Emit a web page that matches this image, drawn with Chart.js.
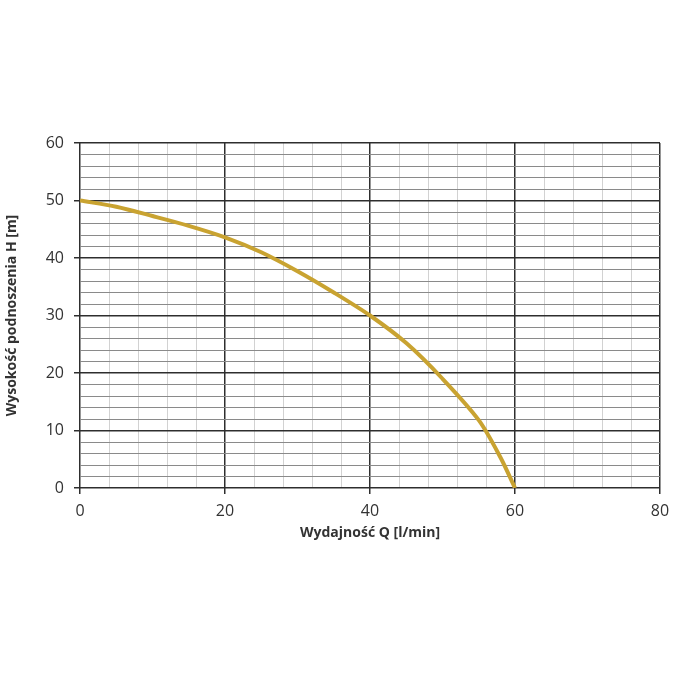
<!DOCTYPE html>
<html>
<head>
<meta charset="utf-8">
<script src="https://cdn.jsdelivr.net/npm/chart.js@4/dist/chart.umd.min.js"></script>
<style>
  html, body { margin: 0; padding: 0; background: #fff; }
  #wrap { width: 680px; height: 680px; }
</style>
</head>
<body>
<div id="wrap"><canvas id="chart" width="680" height="680"></canvas></div>
<script>
// krzywa pompy
const flowQ = [0, 5, 10, 15, 20, 25, 30, 35, 40, 45, 50, 55, 58, 60];
const headH = [50, 48.9, 47.3, 45.6, 43.6, 41.0, 37.7, 34.0, 30.0, 25.2, 19.0, 11.8, 5.3, 0];

const xTitle = 'Wydajność Q [l/min]';
const yTitle = 'Wysokość podnoszenia H [m]';

const MAJOR = '#2e2e2e';
const LINE = '#c9a331';

const points = flowQ.map((q, i) => ({ x: q, y: headH[i] }));

new Chart(document.getElementById('chart'), {
  type: 'line',
  data: {
    datasets: [{
      data: points,
      borderColor: LINE,
      borderWidth: 4,
      pointRadius: 0,
      tension: 0.3,
      fill: false
    }]
  },
  options: {
    responsive: false,
    animation: false,
    layout: { padding: { top: 143, right: 20, bottom: 135, left: 0 } },
    plugins: { legend: { display: false }, tooltip: { enabled: false } },
    scales: {
      x: {
        type: 'linear',
        min: 0, max: 80,
        border: { display: false },
        grid: {
          color: c => c.tick.value % 20 === 0 ? MAJOR : '#d2d2d2',
          lineWidth: c => c.tick.value % 20 === 0 ? 1.5 : 1,
          tickColor: c => c.tick.value % 20 === 0 ? MAJOR : 'rgba(0,0,0,0)',
          tickLength: 6
        },
        ticks: {
          stepSize: 4,
          autoSkip: false,
          maxRotation: 0,
          padding: 8,
          color: '#333',
          font: { family: 'Open Sans', size: 16 },
          callback: v => v % 20 === 0 ? v : ''
        },
        title: {
          display: true,
          text: xTitle,
          color: '#333',
          font: { family: 'Open Sans', size: 14, weight: '700' }
        },
        afterFit: s => { s.height = 57; }
      },
      y: {
        min: 0, max: 60,
        border: { display: false },
        grid: {
          color: c => c.tick.value % 10 === 0 ? MAJOR : '#8a8a8a',
          lineWidth: c => c.tick.value % 10 === 0 ? 1.5 : 1,
          tickColor: c => c.tick.value % 10 === 0 ? MAJOR : 'rgba(0,0,0,0)',
          tickLength: 6
        },
        ticks: {
          stepSize: 2,
          autoSkip: false,
          padding: 10,
          color: '#333',
          font: { family: 'Open Sans', size: 16 },
          callback: v => v % 10 === 0 ? v : ''
        },
        title: {
          display: true,
          text: yTitle,
          color: '#333',
          font: { family: 'Open Sans', size: 14, weight: '700' }
        },
        afterFit: s => { s.width = 80; }
      }
    }
  }
});
</script>
</body>
</html>
